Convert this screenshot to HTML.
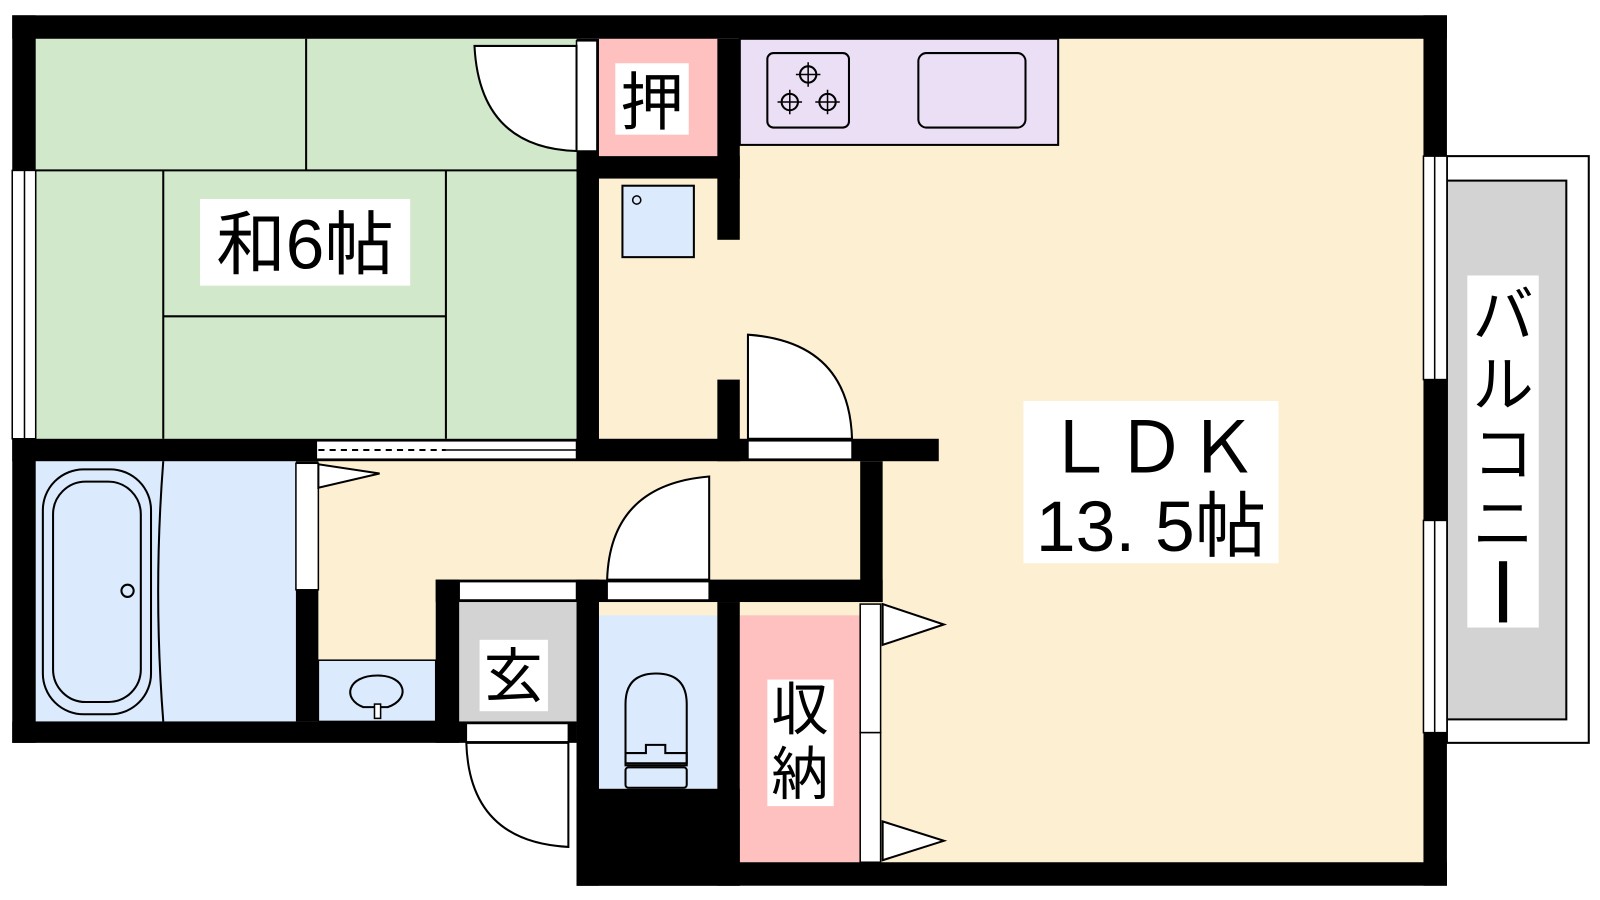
<!DOCTYPE html>
<html><head><meta charset="utf-8"><style>
html,body{margin:0;padding:0;background:#fff;width:1600px;height:900px;overflow:hidden}
text{font-family:"Liberation Sans","Noto Sans CJK JP",sans-serif}
</style></head><body>
<svg width="1600" height="900" viewBox="0 0 1600 900" xmlns="http://www.w3.org/2000/svg">
<g transform="scale(1.0204)">
<!-- floors -->
<rect x="587" y="38" width="808" height="807" fill="#fdf0d2"/>
<rect x="312" y="452" width="540" height="120" fill="#fdf0d2"/>
<rect x="312" y="452" width="115" height="200" fill="#fdf0d2"/>
<rect x="35" y="38" width="530" height="392" fill="#d1e8cb"/>
<g stroke="#000" stroke-width="2" fill="none">
<line x1="35" y1="167" x2="565" y2="167"/><line x1="300" y1="38" x2="300" y2="167"/>
<line x1="160" y1="167" x2="160" y2="430"/><line x1="437" y1="167" x2="437" y2="430"/>
<line x1="160" y1="310" x2="437" y2="310"/>
</g>
<rect x="587" y="38" width="116" height="115" fill="#fec1c0"/>
<rect x="725" y="38" width="312" height="104" fill="#ebdff5" stroke="#000" stroke-width="2"/>
<rect x="752" y="52" width="80" height="73" rx="6" fill="none" stroke="#000" stroke-width="2"/>
<g fill="none" stroke="#000" stroke-width="2">
<circle cx="792" cy="73" r="8"/><circle cx="774" cy="100" r="8"/><circle cx="811" cy="100" r="8"/>
<path d="M792 61v24M780 73h24M774 88v24M762 100h24M811 88v24M799 100h24" stroke-width="1.5"/>
</g>
<rect x="900" y="52" width="105" height="73" rx="8" fill="none" stroke="#000" stroke-width="2"/>
<rect x="610" y="182" width="70" height="70" fill="#dbebfd" stroke="#000" stroke-width="2"/>
<circle cx="624" cy="196" r="4" fill="none" stroke="#000" stroke-width="1.5"/>
<!-- bath -->
<rect x="35" y="452" width="255" height="255" fill="#dbebfd"/>
<path d="M160 452 Q150 580 160 707" fill="none" stroke="#000" stroke-width="2"/>
<rect x="42" y="460" width="106" height="240" rx="40" fill="none" stroke="#000" stroke-width="2"/>
<rect x="52" y="472" width="86" height="216" rx="32" fill="none" stroke="#000" stroke-width="2"/>
<circle cx="125" cy="579" r="6" fill="none" stroke="#000" stroke-width="2"/>
<rect x="312" y="647" width="115" height="60" fill="#dbebfd" stroke="#000" stroke-width="1.5"/>
<path d="M356 693 C335 685 340 662 370 662 C398 662 403 685 380 693 Z" fill="none" stroke="#000" stroke-width="2"/>
<rect x="367" y="690" width="6" height="14" fill="#fff" stroke="#000" stroke-width="1.5"/>
<rect x="450" y="590" width="115" height="117" fill="#d3d3d3"/>
<rect x="587" y="603" width="116" height="170" fill="#dbebfd"/>
<path d="M613 700 L613 690 Q613 660 643 660 Q673 660 673 690 L673 748 L613 748 Z" fill="none" stroke="#000" stroke-width="2"/>
<path d="M613 750 L673 750 L673 738 L652 738 L652 730 L633 730 L633 738 L613 738 Z" fill="none" stroke="#000" stroke-width="2"/>
<rect x="613" y="752" width="60" height="20" rx="3" fill="none" stroke="#000" stroke-width="2"/>
<rect x="725" y="603" width="118" height="242" fill="#fec1c0"/>
<!-- balcony -->
<rect x="1418" y="153" width="139" height="575" fill="#fff" stroke="#000" stroke-width="2"/>
<rect x="1418" y="177" width="117" height="528" fill="#d3d3d3" stroke="#000" stroke-width="2"/>
<!-- walls -->
<g fill="#000">
<rect x="12" y="15" width="1406" height="23"/>
<rect x="12" y="15" width="23" height="713"/>
<rect x="1395" y="15" width="23" height="853"/>
<rect x="565" y="38" width="22" height="412"/>
<rect x="703" y="38" width="22" height="197"/>
<rect x="565" y="153" width="160" height="22"/>
<rect x="703" y="372" width="22" height="80"/>
<rect x="12" y="430" width="908" height="22"/>
<rect x="290" y="452" width="22" height="255"/>
<rect x="843" y="452" width="22" height="138"/>
<rect x="427" y="568" width="438" height="22"/>
<rect x="427" y="568" width="23" height="160"/>
<rect x="12" y="707" width="553" height="21"/>
<rect x="565" y="568" width="22" height="300"/>
<rect x="703" y="590" width="22" height="278"/>
<rect x="565" y="773" width="160" height="95"/>
<rect x="565" y="845" width="853" height="23"/>
</g>
<!-- windows / openings -->
<g fill="#fff" stroke="#000" stroke-width="1.5">
<rect x="12" y="167" width="23" height="263"/>
<rect x="1395" y="153" width="23" height="219"/>
<rect x="1395" y="510" width="23" height="208"/>
<rect x="310" y="432" width="255" height="18"/>
<rect x="733" y="432" width="102" height="18"/>
<rect x="290" y="454" width="22" height="124"/>
<rect x="450" y="570" width="115" height="18"/>
<rect x="595" y="570" width="100" height="18"/>
<rect x="457" y="709" width="100" height="18"/>
<rect x="565" y="40" width="20" height="108"/>
<rect x="843" y="592" width="20" height="126"/>
<rect x="843" y="718" width="20" height="127"/>
</g>
<line x1="24" y1="167" x2="24" y2="430" stroke="#000" stroke-width="1.5"/>
<line x1="1406" y1="153" x2="1406" y2="372" stroke="#000" stroke-width="1.5"/>
<line x1="1406" y1="510" x2="1406" y2="718" stroke="#000" stroke-width="1.5"/>
<line x1="312" y1="441" x2="437" y2="441" stroke="#000" stroke-width="2" stroke-dasharray="6,5"/>
<line x1="437" y1="441" x2="565" y2="441" stroke="#000" stroke-width="1.5"/>
<!-- doors -->
<g fill="#fff" stroke="#000" stroke-width="2">
<path d="M465 45 L565 45 L565 148 Q470 145 465 45 Z"/>
<path d="M733 328 L733 430 L835 430 Q832 335 733 328 Z"/>
<path d="M695 467 L695 568 L595 568 Q598 475 695 467 Z"/>
<path d="M557 728 L557 830 Q460 825 457 728 Z"/>
<path d="M312 455 L312 478 L372 464 Z"/>
<path d="M865 592 L865 632 L925 612 Z"/>
<path d="M865 805 L865 843 L925 824 Z"/>
</g>
<!-- labels -->
<rect x="196" y="195" width="206" height="85" fill="#fff"/>
<text x="299" y="263" font-size="68" text-anchor="middle">和6帖</text>
<rect x="603" y="62" width="72" height="70" fill="#fff"/>
<text x="639" y="122" font-size="62" text-anchor="middle">押</text>
<rect x="470" y="627" width="67" height="70" fill="#fff"/>
<text x="503" y="683" font-size="58" text-anchor="middle">玄</text>
<rect x="752" y="666" width="65" height="124" fill="#fff"/>
<text x="784" y="715" font-size="56" text-anchor="middle">収</text>
<text x="784" y="778" font-size="56" text-anchor="middle">納</text>
<rect x="1003" y="393" width="250" height="159" fill="#fff"/>
<text x="1128" y="463" font-size="70" text-anchor="middle">ＬＤＫ</text>
<text x="1128" y="540" font-size="70" text-anchor="middle">13. 5帖</text>
<rect x="1438" y="270" width="70" height="345" fill="#fff"/>
<text x="1473" y="330" font-size="60" text-anchor="middle">バ</text>
<text x="1473" y="398" font-size="60" text-anchor="middle">ル</text>
<text x="1473" y="466" font-size="60" text-anchor="middle">コ</text>
<text x="1473" y="534" font-size="60" text-anchor="middle">ニ</text>
<rect x="1469" y="550" width="8" height="60" fill="#000"/>
</g>
</svg>
</body></html>
